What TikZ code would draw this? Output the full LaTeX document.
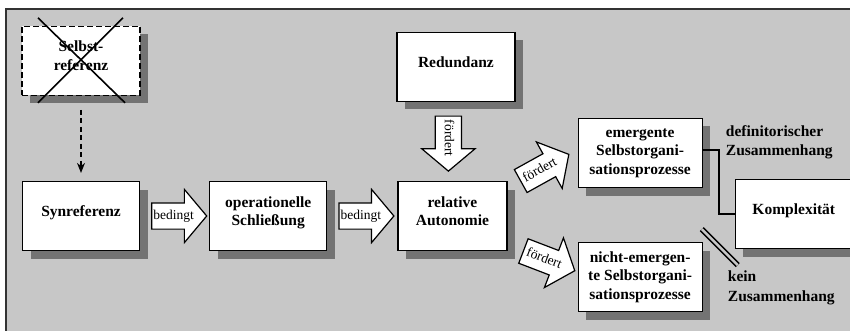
\documentclass[tikz,border=0pt]{standalone}
\usepackage{fontspec}
\setmainfont{Liberation Serif}
\usetikzlibrary{arrows.meta, positioning, shapes.arrows, shadows}

\definecolor{bggray}{gray}{0.78}
\definecolor{shadegray}{gray}{0.45}

\begin{document}
\begin{tikzpicture}[
  x=1pt, y=1pt,
  node distance=70pt,
  box/.style={draw, line width=1.2pt, fill=white, minimum width=117pt,
              minimum height=69pt, align=center, inner sep=2pt,
              text depth=10pt,
              font=\fontsize{15.5}{18.5}\selectfont\bfseries,
              drop shadow={shadow xshift=8pt, shadow yshift=-8pt,
                           fill=shadegray, opacity=1}},
  ghost/.style={box, dash pattern=on 6pt off 3pt},
  bigarr/.style={single arrow, draw, line width=1.2pt, fill=white,
                 single arrow head extend=13.5pt, single arrow tip angle=100,
                 minimum height=55pt, inner xsep=-4pt, inner ysep=6pt,
                 text height=10pt, text depth=3pt,
                 font=\fontsize{13.5}{15}\selectfont},
  note/.style={align=left, inner sep=0pt,
               font=\fontsize{15.5}{19.5}\selectfont\bfseries},
  dasharr/.style={-{Stealth[length=10pt, width=8pt]},
                  dash pattern=on 5pt off 3.5pt, line width=1.4pt},
  link/.style={line width=2pt}
]
  \useasboundingbox (0,0) rectangle (850,-331);
  % background and frame
  \fill[bggray] (6,-9) rectangle (850,-331);
  \draw[line width=1.5pt, black!80] (6,-331) -- (6,-9) -- (850,-9);

  % main chain
  \node[box] (syn) at (81,-216) {Synreferenz};
  \node[box, right=69pt of syn] (op) {operationelle\\Schließung};
  \node[box, right=70pt of op, minimum width=109pt] (rel) {relative\\Autonomie};
  \node[box, above=79pt of rel, xshift=3.5pt, minimum width=118pt] (red) {Redundanz};
  \node[ghost, above=85pt of syn, minimum width=118pt] (selb) {Selbst-\\referenz};

  % right side
  \node[box, right=70pt of rel, yshift=63pt, minimum width=124pt,
        text depth=3pt] (emerg)
        {emergente\\Selbstorgani-\\sationsprozesse};
  \node[box, right=70pt of rel, yshift=-61pt, minimum width=124pt,
        text depth=3pt] (nemerg)
        {nicht-emergen-\\te Selbstorgani-\\sationsprozesse};
  \node[box, right=32pt of emerg.east, yshift=-61pt] (kompl) {Komplexität};

  % crossed out
  \draw[line width=1.6pt] ([shift={(-43,43)}]selb.center) -- ([shift={(44,-42)}]selb.center);
  \draw[line width=1.6pt] ([shift={(42,43)}]selb.center) -- ([shift={(-43,-42)}]selb.center);
  \draw[dasharr, shorten <=14pt, shorten >=8pt] (selb) -- (syn);

  % block arrows
  \node[bigarr, anchor=tail] (bed1) at ([xshift=11pt]syn.east) {bedingt};
  \node[bigarr, anchor=tail] (bed2) at ([xshift=11pt]op.east) {bedingt};
  \node[bigarr, rotate=-90, anchor=tip] (foe1) at ([xshift=-4pt, yshift=9pt]rel.north) {fördert};
  \node[bigarr, rotate=29, anchor=tip] (foe2) at ([xshift=-8pt, yshift=-1pt]emerg.west) {fördert};
  \node[bigarr, rotate=-21, anchor=tip] (foe3) at ([xshift=-2pt, yshift=6pt]nemerg.west) {fördert};

  % relations to Komplexitaet
  \draw[link] ([yshift=3pt]emerg.east) -- ++(16,0) |- (kompl.west);
  \draw[line width=1.5pt, double=bggray, double distance=2.5pt]
       ([shift={(-33,20)}]kompl.south west) -- ([shift={(3,-16)}]kompl.south west);
  \node[note, anchor=north west] (defz) at ([shift={(23,-7)}]emerg.north east)
        {definitorischer\\Zusammenhang};
  \node[note, anchor=north west] (keinz) at ([shift={(25,-29)}]nemerg.north east)
        {kein\\Zusammenhang};
\end{tikzpicture}
\end{document}
